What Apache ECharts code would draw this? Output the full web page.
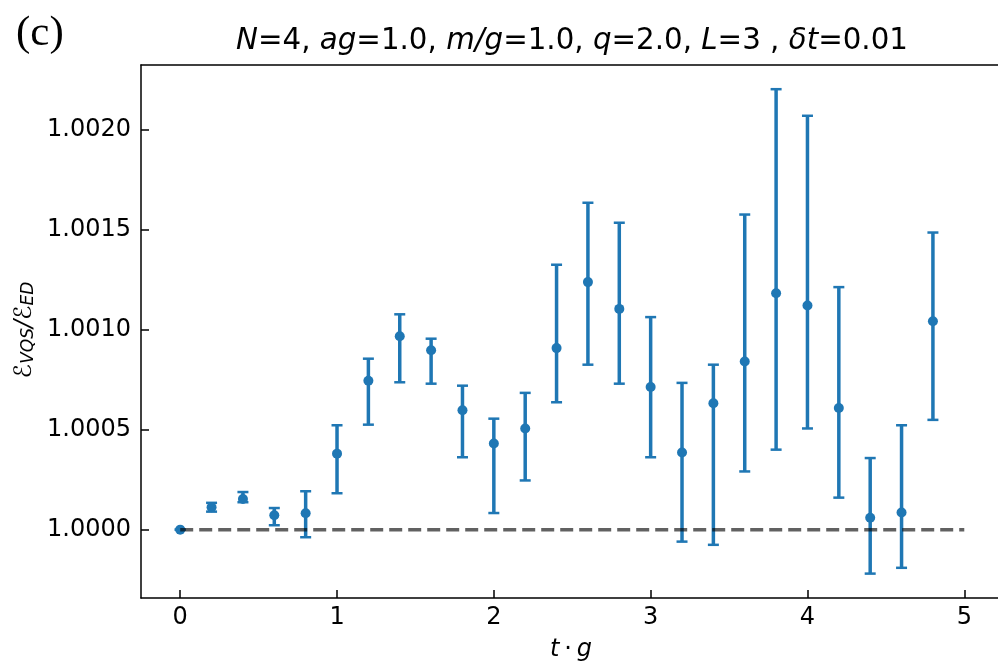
<!DOCTYPE html>
<html>
<head>
<meta charset="utf-8">
<script src="https://cdn.jsdelivr.net/npm/echarts@6/dist/echarts.min.js"></script>
<style>
html,body{margin:0;padding:0;background:#fff;}
#chart{width:998px;height:661px;}
</style>
</head>
<body>
<div id="chart"></div>
<script>
// ---- data ----
const tg = [0, 0.2, 0.4, 0.6, 0.8, 1.0, 1.2, 1.4, 1.6, 1.8, 2.0, 2.2, 2.4, 2.6, 2.8, 3.0, 3.2, 3.4, 3.6, 3.8, 4.0, 4.2, 4.4, 4.6, 4.8];
const ratio = [1.000000, 1.000112, 1.000153, 1.000072, 1.000082, 1.000380, 1.000745, 1.000967, 1.000897, 1.000597,
               1.000431, 1.000506, 1.000908, 1.001238, 1.001104, 1.000713, 1.000386, 1.000632, 1.000841, 1.001182,
               1.001121, 1.000608, 1.000059, 1.000086, 1.001042];
const errLow = [1.000000, 1.000090, 1.000137, 1.000022, 0.999962, 1.000182, 1.000525, 1.000737, 1.000730, 1.000362,
                1.000083, 1.000246, 1.000637, 1.000825, 1.000730, 1.000362, 0.999940, 0.999924, 1.000291, 1.000400,
                1.000506, 1.000160, 0.999780, 0.999809, 1.000549];
const errHigh = [1.000000, 1.000134, 1.000188, 1.000108, 1.000192, 1.000522, 1.000855, 1.001077, 1.000955, 1.000720,
                 1.000555, 1.000684, 1.001325, 1.001635, 1.001535, 1.001063, 1.000734, 1.000825, 1.001576, 1.002203,
                 1.002070, 1.001213, 1.000358, 1.000522, 1.001486];
const refX = [0, 5];
const refY = [1.0, 1.0];
const xTicks = [0, 1, 2, 3, 4, 5];
const yTicks = [1.0000, 1.0005, 1.0010, 1.0015, 1.0020];

const blue = '#1f77b4';
const font = 'DejaVu Sans';

const chart = echarts.init(document.getElementById('chart'), null, {renderer: 'canvas'});

const pointData = tg.map((t, i) => [t, ratio[i]]);
const errData = tg.map((t, i) => [t, errLow[i], errHigh[i]]);
const refData = refX.map((x, i) => [x, refY[i]]);

chart.setOption({
  animation: false,
  backgroundColor: '#ffffff',
  title: {
    text: '{i|N}{r|=4, }{i|ag}{r|=1.0, }{i|m/g}{r|=1.0, }{i|q}{r|=2.0, }{i|L}{r|=3 , }{i|δt}{r|=0.01}',
    left: 567, top: 22, textAlign: 'center',
    textStyle: {
      fontWeight: 'normal',
      rich: {
        i: {fontFamily: font, fontStyle: 'italic', fontWeight: 'normal', fontSize: 29.3, color: '#000'},
        r: {fontFamily: font, fontWeight: 'normal', fontSize: 29.3, color: '#000'}
      }
    }
  },
  graphic: [
    {type: 'text', left: 16, top: 12, style: {text: '(c)', fontFamily: 'Liberation Serif', fontSize: 43, fill: '#000'}},
    {type: 'text', x: 22, y: 330, rotation: Math.PI / 2, style: {
      text: '{e|ℰ}{s|VQS}{e|/ℰ}{s|ED}',
      align: 'center', verticalAlign: 'middle',
      rich: {
        e: {fontFamily: font, fontStyle: 'italic', fontSize: 24, fill: '#000', lineHeight: 30, verticalAlign: 'bottom'},
        s: {fontFamily: font, fontStyle: 'italic', fontSize: 17, fill: '#000', lineHeight: 22, verticalAlign: 'bottom'}
      }
    }},
    {type: 'text', x: 571, y: 650, style: {
      text: '{i|t}{r|\u2009·\u2009}{i|g}', align: 'center', verticalAlign: 'middle',
      rich: {
        i: {fontFamily: font, fontStyle: 'italic', fontSize: 24, fill: '#000'},
        r: {fontFamily: font, fontSize: 24, fill: '#000'}
      }
    }}
  ],
  grid: {left: 141, right: 0, top: 65, bottom: 63, show: false, containLabel: false},
  xAxis: [{
    type: 'value', min: -0.25, max: 5.215,
    axisLine: {show: true, onZero: false, lineStyle: {color: '#000', width: 1.5}},
    axisTick: {show: true, inside: true, length: 8, lineStyle: {color: '#000', width: 1.5}, customValues: xTicks},
    axisLabel: {fontFamily: font, fontSize: 24, color: '#000', margin: 8, customValues: xTicks,
      formatter: v => String(Math.round(v))},
    splitLine: {show: false}
  }, {
    type: 'value', position: 'top', min: -0.25, max: 5.215,
    axisLine: {show: true, onZero: false, lineStyle: {color: '#000', width: 1.5}},
    axisTick: {show: false}, axisLabel: {show: false}, splitLine: {show: false}
  }],
  yAxis: {
    type: 'value', min: 0.999658, max: 1.002324,
    axisLine: {show: true, onZero: false, lineStyle: {color: '#000', width: 1.5}},
    axisTick: {show: true, inside: true, length: 8, lineStyle: {color: '#000', width: 1.5}, customValues: yTicks},
    axisLabel: {fontFamily: font, fontSize: 24, color: '#000', margin: 10, customValues: yTicks,
      formatter: v => v.toFixed(4)},
    splitLine: {show: false}
  },
  series: [
    {
      type: 'custom', z: 2,
      data: errData,
      renderItem: function (params, api) {
        const x = api.value(0), lo = api.value(1), hi = api.value(2);
        const pLo = api.coord([x, lo]);
        const pHi = api.coord([x, hi]);
        const cap = 5.5;
        const st = {stroke: blue, lineWidth: 3.5};
        const stc = {stroke: blue, lineWidth: 2.5};
        return {
          type: 'group',
          children: [
            {type: 'line', shape: {x1: pLo[0], y1: pLo[1], x2: pHi[0], y2: pHi[1]}, style: st},
            {type: 'line', shape: {x1: pLo[0] - cap, y1: pLo[1], x2: pLo[0] + cap, y2: pLo[1]}, style: stc},
            {type: 'line', shape: {x1: pHi[0] - cap, y1: pHi[1], x2: pHi[0] + cap, y2: pHi[1]}, style: stc}
          ]
        };
      }
    },
    {
      type: 'scatter', z: 3, data: pointData, symbol: 'circle', symbolSize: 10,
      itemStyle: {color: blue, opacity: 1}
    },
    {
      type: 'line', z: 4, data: refData, symbol: 'none',
      lineStyle: {color: 'rgba(0,0,0,0.62)', width: 3.5, type: [13, 6]}
    }
  ]
});
</script>
</body>
</html>
